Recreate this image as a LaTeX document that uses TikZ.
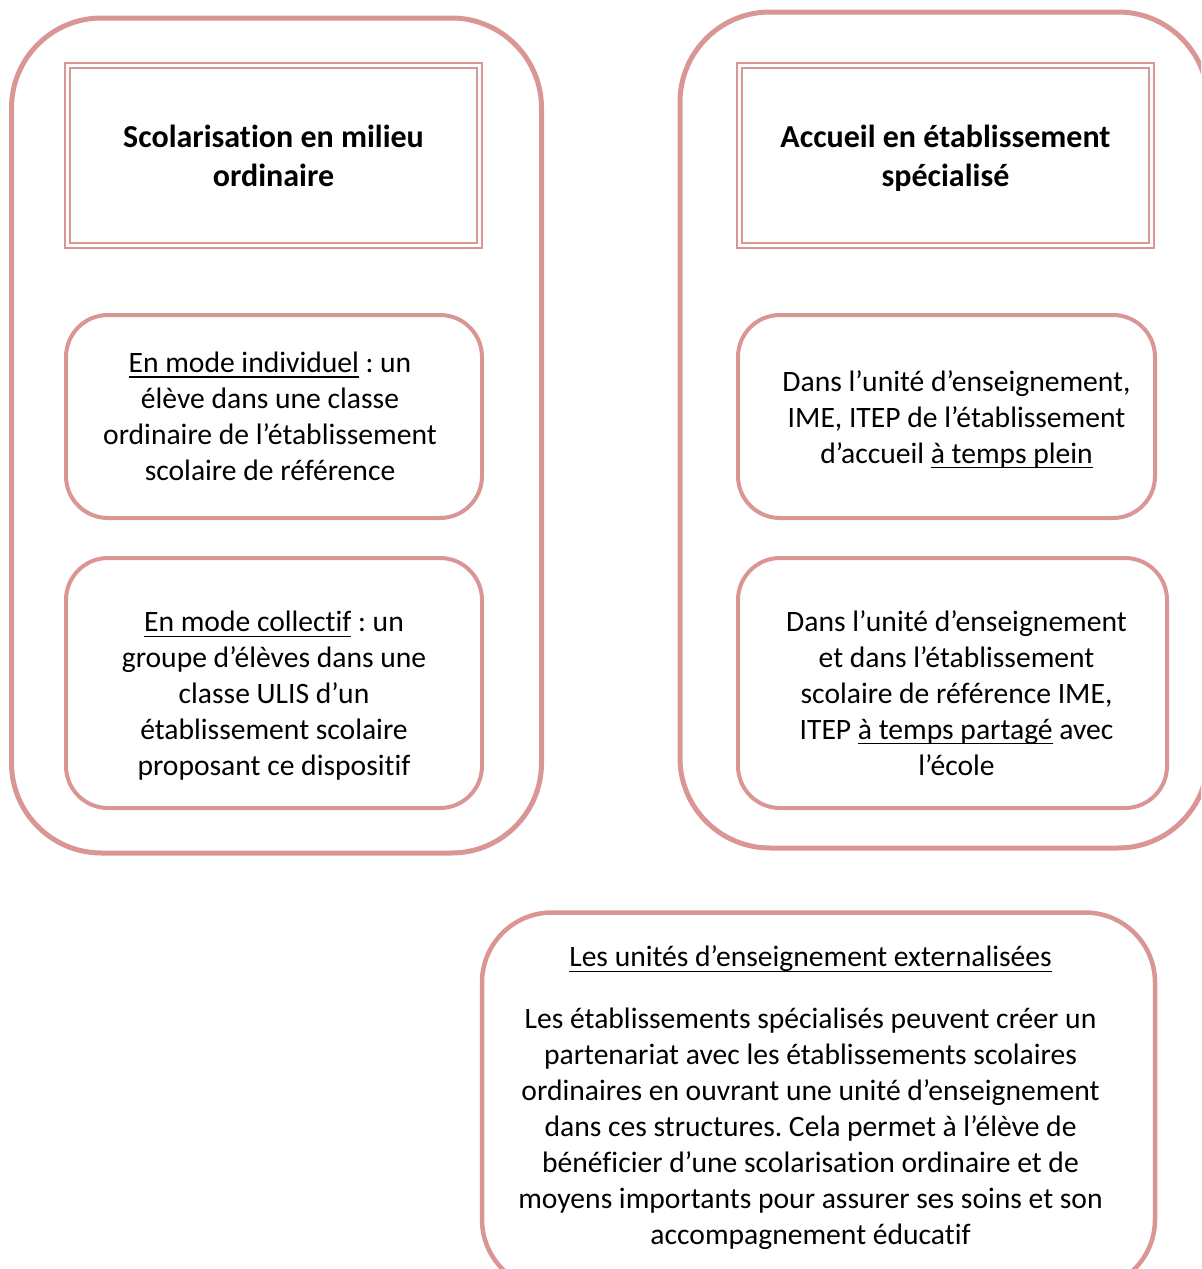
\documentclass[tikz,border=0pt]{standalone}
\usepackage{fontspec}
\setmainfont{Carlito}[Ligatures=NoCommon]
\usepackage{xcolor}
\definecolor{boxrose}{HTML}{D99694}
\usetikzlibrary{positioning}
\newcommand{\undl}[1]{\setbox0\hbox{#1}\rlap{\rule[-2.5pt]{\wd0}{0.7pt}}\box0\relax}
\frenchspacing

\begin{document}
\begin{tikzpicture}[x=0.5pt, y=-0.5pt,
bigbox/.style={draw=boxrose, line width=2.5pt, rounded corners=45pt, inner sep=0pt},
titlebox/.style={draw=boxrose, double=white, line width=0.9pt, double distance=1.6pt, minimum width=206pt, minimum height=90pt},
titletext/.style={align=center, font=\fontsize{16}{19.5}\selectfont\bfseries},
modebox/.style={draw=boxrose, line width=2pt, rounded corners=21pt},
bodytext/.style={align=center, font=\fontsize{14.8}{18}\selectfont}
]
\useasboundingbox (0,0) rectangle (1201,1269);
\clip (0,0) rectangle (1201,1269);
% Milieu ordinaire
%Nodes
\node[bigbox, minimum width=265pt, minimum height=417.5pt] (ordbig) at (276.5,435.5) {};
\node[titlebox] (ordtitle) at (273.5,155.5) {};
\node[modebox, minimum width=208pt, minimum height=101.5pt] (ordindiv) at (274,416.5) {};
\node[modebox, minimum width=208pt, minimum height=125pt] (ordcollec) at (274,683) {};
%Texts
\node[titletext] at (ordtitle.center) {Scolarisation en milieu\\ordinaire};
\node[bodytext] at ([xshift=-2pt]ordindiv.center)
  {\undl{En mode individuel} : un\\élève dans une classe\\ordinaire de l’établissement\\scolaire de référence};
\node[bodytext] at ([yshift=-6.5pt]ordcollec.center)
  {\undl{En mode collectif} : un\\groupe d’élèves dans une\\classe ULIS d’un\\établissement scolaire\\proposant ce dispositif};
% Etablissement specialise
%Nodes
\node[bigbox, minimum width=264pt, minimum height=418pt] (specbig) at (944,430) {};
\node[titlebox] (spectitle) at (945.5,155.5) {};
\node[modebox, minimum width=208.5pt, minimum height=101.5pt] (specplein) at (946.5,416.5) {};
\node[modebox, minimum width=214.5pt, minimum height=125pt] (specpartage) at (952.5,683) {};
%Texts
\node[titletext] at ([yshift=-1.5pt]spectitle.center) {Accueil en établissement\\spécialisé};
\node[bodytext] at ([xshift=5pt,yshift=-1.5pt]specplein.center)
  {Dans l’unité d’enseignement,\\IME, ITEP de l’établissement\\d’accueil \undl{à temps plein}};
\node[bodytext] at ([xshift=2pt,yshift=-5pt]specpartage.center)
  {Dans l’unité d’enseignement\\et dans l’établissement\\scolaire de référence IME,\\ITEP \undl{à temps partagé} avec\\l’école};
% Unites externalisees
\node[modebox, line width=2.25pt, rounded corners=35pt, minimum width=336.5pt, minimum height=188.5pt] (extern) at (818.5,1101) {};
\node[bodytext] at ([xshift=-4pt,yshift=1.5pt]extern.center)
  {\undl{Les unités d’enseignement externalisées}\\[13pt]
   Les établissements spécialisés peuvent créer un\\partenariat avec les établissements scolaires\\ordinaires en ouvrant une unité d’enseignement\\dans ces structures. Cela permet à l’élève de\\bénéficier d’une scolarisation ordinaire et de\\moyens importants pour assurer ses soins et son\\accompagnement éducatif};
\end{tikzpicture}
\end{document}
